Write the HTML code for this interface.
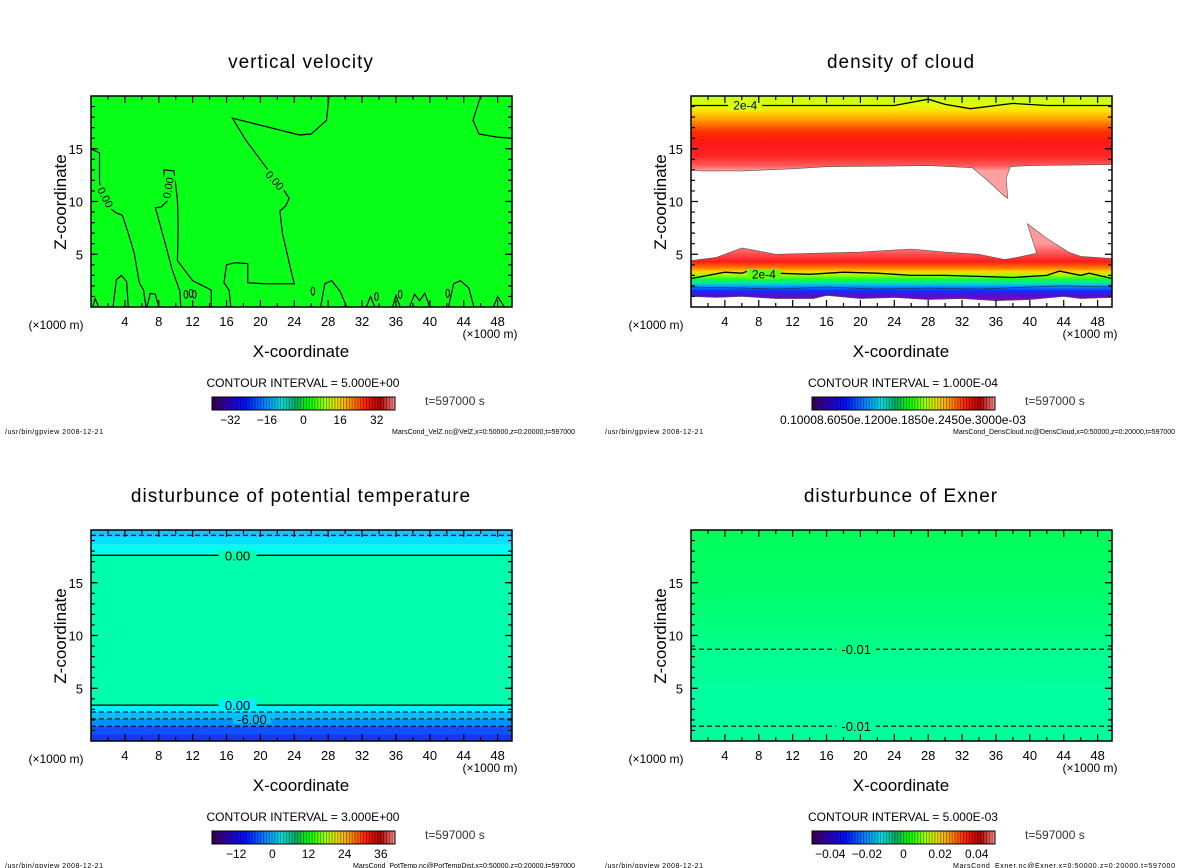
<!DOCTYPE html>
<html><head><meta charset="utf-8"><style>
html,body{margin:0;padding:0;background:#fff;}
svg{display:block;font-family:"Liberation Sans","DejaVu Sans",sans-serif;}
</style></head><body>
<svg id="fig" width="1200" height="868" viewBox="0 0 1200 868" xmlns="http://www.w3.org/2000/svg">
<defs>
<linearGradient id="cbar" x1="0" x2="1" y1="0" y2="0">
<stop offset="0" stop-color="#3a0050"/><stop offset="0.08" stop-color="#3000b0"/><stop offset="0.18" stop-color="#0010ff"/>
<stop offset="0.3" stop-color="#0090ff"/><stop offset="0.38" stop-color="#00e0e0"/><stop offset="0.46" stop-color="#00b060"/>
<stop offset="0.53" stop-color="#00ff00"/><stop offset="0.62" stop-color="#a0ff00"/><stop offset="0.68" stop-color="#e8e000"/>
<stop offset="0.76" stop-color="#ff9000"/><stop offset="0.84" stop-color="#ff2000"/><stop offset="0.92" stop-color="#b00000"/>
<stop offset="1" stop-color="#ff9090"/>
</linearGradient>
</defs>
</svg>
<script>
// ---------- data ----------
const xTicks = [4,8,12,16,20,24,28,32,36,40,44,48];
const zTicks = [5,10,15];
const titles = ["vertical velocity","density of cloud","disturbunce of potential temperature","disturbunce of Exner"];
const intervals = ["CONTOUR INTERVAL = 5.000E+00","CONTOUR INTERVAL = 1.000E-04","CONTOUR INTERVAL = 3.000E+00","CONTOUR INTERVAL = 5.000E-03"];
const footers = ["MarsCond_VelZ.nc@VelZ,x=0:50000,z=0:20000,t=597000","MarsCond_DensCloud.nc@DensCloud,x=0:50000,z=0:20000,t=597000","MarsCond_PotTemp.nc@PotTempDist,x=0:50000,z=0:20000,t=597000","MarsCond_Exner.nc@Exner,x=0:50000,z=0:20000,t=597000"];
const cbarLabels1 = [-32,-16,0,16,32];
const cbarLabels3 = [-12,0,12,24,36];
const cbarLabels4 = [-0.04,-0.02,0,0.02,0.04];
const cbarRange1 = [-40,40];
const cbarRange3 = [-20,40.7];
const cbarRange4 = [-0.05,0.05];
// vertical velocity zero contours [x km, z km]
const velA = [[0,15],[1,14.6],[1,11.8],[1.5,10.5],[2.2,9.4],[3,8.9],[3.7,8.7],[4.4,7],[5.1,5.1],[5.7,2.3],[6.2,1.6],[6.5,0]];
const velB = [[10.6,0],[10.5,1.5],[9.6,3.5],[8.9,5.6],[7.6,9.4],[8.3,9.5],[9.2,10.2],[8.7,11.8],[8.6,13],[9.8,12.9],[10.2,10.2],[10.3,7.5],[10.2,4.4],[12,2.5],[14.2,1.6],[14.2,0]];
const velC = [[28.1,20],[27.8,17.7],[26,16.4],[24.6,16.3],[16.7,17.9],[18.2,15.9],[20.9,13],[22,12],[23.4,10.3],[23,9.6],[22.3,9.1],[22.6,7],[23.6,3.5],[24,2.2],[20.6,2.2],[18.5,2.3],[18.5,4.1],[17,4.2],[16,4],[15.7,2.3],[16.3,1.6],[16.5,0]];
const velD = [[46,20],[45.1,17.7],[45.8,16.4],[47.9,16.1],[49.7,16]];
const velHumps = [[[2.6,0],[3,2.6],[3.6,3],[4.2,2.4],[4.4,0]],[[27.1,0],[27.6,2.2],[28.4,2.5],[29.4,1.5],[30.2,0]],[[42.2,0],[42.8,2.2],[43.6,2.5],[44.6,1.8],[45.2,0]],[[6.6,0],[7,1.3],[7.6,1.2],[8,0]],[[32.5,0],[33,1],[33.5,0]],[[35.6,0],[36,1.1],[36.5,0]],[[37.6,0],[38.2,1.2],[38.8,0.6],[39.4,1.3],[40,0]],[[47.5,0],[48,1],[48.8,0]],[[0.2,0],[0.5,0.8],[0.9,0]]];
const velBlobs = [[11.2,1.2],[11.8,1.3],[12.2,1.2],[33.7,1],[36.5,1.2],[42.1,1.3],[26.2,1.5]];
// cloud density boundaries
const upperTop2e4 = [[0,19.1],[10,19.1],[24,19.1],[28,19.7],[30,19.2],[33,18.8],[38,19.3],[42,19.1],[49.7,19.1]];
const upperBottom = [[0,13],[1,12.9],[6,12.9],[12,13.1],[16,13.3],[28,13.4],[33.2,13.2],[35,12],[37,10.5],[37.4,10.3],[37.2,12.2],[37.7,13.3],[40,13.4],[49.7,13.5]];
const lowerTop = [[0,4.4],[3,4.7],[6,5.6],[8,5.3],[10,5],[20,5.2],[26,5.5],[30,5.2],[34,5],[37,4.5],[38.5,4.7],[40.8,5.1],[39.7,7.9],[42,6.5],[44.6,5.2],[46,4.8],[49.7,4.6]];
const lowerBottom = [[49.7,0.9],[46,0.8],[44,1],[40,0.7],[36,0.6],[32,0.8],[28,0.7],[24,0.9],[20,0.8],[16,1.1],[14.5,0.8],[10,0.8],[6,1],[3,0.9],[0,1]];
const lower2e4 = [[0,2.7],[2,3],[4,3.3],[6,3.2],[7,3.5],[10,3.2],[14,3.1],[18,3.3],[22,3.2],[26,3],[30,3],[34,2.9],[38,2.8],[42,3],[43.5,3.4],[46,3],[47,3.2],[49.7,2.7]];
const lowerThin = [[0,1.9],[6,1.8],[10,1.7],[16,1.9],[22,1.7],[28,1.8],[34,1.7],[40,1.9],[44,2],[49.7,1.9]];
// potential temperature band levels (z) and colours
const ptBandTops = [20,19.3,18.6,17.6,3.4,2.75,2.1,1.4];
const ptBandColors = ["#18c4ff","#00e0ff","#00ffee","#00ffac","#00f0ff","#00c0ff","#0090ff","#1050ff"];
const ptSolid = [17.6,3.4];
const ptDashed = [19.5,2.75,2.1,1.4];
// Exner dashed contours
const exDashed = [8.7,1.4];

// ---------- helpers ----------
const svg = document.getElementById('fig');
const NS = 'http://www.w3.org/2000/svg';
const offs = [[0,0],[600,0],[0,434],[600,434]];
const XMAX = 49.7, ZMAX = 20, PW = 421, PH = 211;
function sx(p,v){return offs[p][0]+91+v/XMAX*PW;}
function sy(p,z){return offs[p][1]+307-z/ZMAX*PH;}
function mk(tag,attrs,parent){const e=document.createElementNS(NS,tag);for(const k in attrs)e.setAttribute(k,attrs[k]);(parent||svg).appendChild(e);return e;}
function pts(p,arr){return arr.map(a=>sx(p,a[0]).toFixed(1)+','+sy(p,a[1]).toFixed(1)).join(' ');}
function txt(x,y,s,size,anchor,parent){const t=mk('text',{x:x,y:y,'font-size':size,'text-anchor':anchor||'middle',fill:'#000'},parent);t.textContent=s;return t;}

for(let p=0;p<4;p++){
  const ox=offs[p][0], oy=offs[p][1];
  const g=mk('g',{});
  
  
  const clip=mk('clipPath',{id:'clip'+p},g);
  mk('rect',{x:ox+91,y:oy+96,width:PW,height:PH},clip);
  const plot=mk('g',{'clip-path':'url(#clip'+p+')'},g);
  
  
  window['plot'+p]=plot;
  const t=txt(ox+301,oy+68,titles[p],19,'middle',g);
  t.setAttribute('letter-spacing','1');
  
  
}

// panel 1 fill
(function(){const p=0,g=plot0;
 mk('rect',{x:sx(p,0),y:sy(p,20),width:PW,height:PH,fill:'#08ff18'},g);
 const lines=[velA,velB,velC,velD].concat(velHumps);
 lines.forEach((l,i)=>{const e=mk('polyline',{points:pts(p,l),fill:'none',stroke:'#000','stroke-width':1.2},g);
   
   });
 velBlobs.forEach(b=>{const e=mk('ellipse',{cx:sx(p,b[0]),cy:sy(p,b[1]),rx:1.8,ry:4,fill:'none',stroke:'#000','stroke-width':1},g);
   
   });
 [[1.7,10.4,62],[9.1,11.3,-80],[21.7,12,48]].forEach(l=>{
   const x=sx(p,l[0]),y=sy(p,l[1]);
   mk('rect',{x:x-6,y:y-13,width:12,height:26,fill:'#08ff18',transform:`rotate(${l[2]>0?l[2]-90:l[2]+90} ${x} ${y})`},g);
   const tt=txt(x,y+4,'0.00',11,'middle',g);tt.setAttribute('transform',`rotate(${l[2]} ${x} ${y})`);
   
   });
})();

// panel 2 fill
(function(){const p=1,g=plot1;
 const d=svg.querySelector('defs');
 const ug=mk('linearGradient',{id:'upg',gradientUnits:'userSpaceOnUse',x1:0,x2:0,y1:sy(p,20),y2:sy(p,12.9)},d);
 [[0,'#c4ff28'],[0.12,'#e0ff00'],[0.2,'#ffe000'],[0.32,'#ff9a00'],[0.48,'#ff3000'],[0.62,'#ff1818'],[0.8,'#ff2424'],[0.93,'#ff5a5a'],[1,'#ffa0a0']].forEach(s=>mk('stop',{offset:s[0],'stop-color':s[1]},ug));
 const lg=mk('linearGradient',{id:'lowg',gradientUnits:'userSpaceOnUse',x1:0,x2:0,y1:sy(p,6),y2:sy(p,0.7)},d);
 [[0,'#ff9898'],[0.2,'#ff4848'],[0.32,'#ff1a1a'],[0.42,'#ff7000'],[0.5,'#ffd000'],[0.56,'#a0ff00'],[0.64,'#10ff30'],[0.71,'#00e0c0'],[0.76,'#00a0ff'],[0.84,'#1030ff'],[0.92,'#5010d0'],[1,'#8000c0']].forEach(s=>mk('stop',{offset:s[0],'stop-color':s[1]},lg));
 const up=[[0,20],[49.7,20]].concat(upperBottom.slice().reverse());
 let e=mk('polygon',{points:pts(p,up),fill:'url(#upg)',stroke:'#555','stroke-width':0.6},g);
 
 
 e=mk('polygon',{points:pts(p,lowerTop.concat(lowerBottom)),fill:'url(#lowg)',stroke:'#555','stroke-width':0.6},g);
 
 
 [upperTop2e4,lower2e4].forEach(l=>{const c=mk('polyline',{points:pts(p,l),fill:'none',stroke:'#000','stroke-width':1.3},g);
   
   });
 mk('polyline',{points:pts(p,lowerThin),fill:'none',stroke:'#203060','stroke-width':0.8},g);
 [[6.4,19.1,'#d8ff10'],[8.6,3.1,'#60ff10']].forEach(l=>{const x=sx(p,l[0]),y=sy(p,l[1]);
   mk('rect',{x:x-17,y:y-5,width:34,height:10,fill:l[2]},g);
   const tt=txt(x,y+4,'2e-4',12,'middle',g);
   
   });
})();

// panel 3 fill
(function(){const p=2,g=plot2;
 for(let i=0;i<ptBandTops.length;i++){
   const top=ptBandTops[i], bot=i+1<ptBandTops.length?ptBandTops[i+1]:0;
   const r=mk('rect',{x:sx(p,0),y:sy(p,top),width:PW,height:sy(p,bot)-sy(p,top),fill:ptBandColors[i]},g);
   
   }
 mk('rect',{x:sx(p,0),y:sy(p,0.6),width:PW,height:sy(p,0)-sy(p,0.6),fill:'#1838f0'},g);
 ptSolid.forEach(z=>{const l=mk('line',{x1:sx(p,0),x2:sx(p,XMAX),y1:sy(p,z),y2:sy(p,z),stroke:'#000','stroke-width':1.3},g);
   
   });
 ptDashed.forEach(z=>{const l=mk('line',{x1:sx(p,0),x2:sx(p,XMAX),y1:sy(p,z),y2:sy(p,z),stroke:'#000','stroke-width':1,'stroke-dasharray':'5,3'},g);
   
   });
 [[17.3,17.6,'0.00','#00ffac'],[17.3,3.4,'0.00','#00f0ff'],[19,2.1,'-6.00','#00c0ff']].forEach(l=>{const x=sx(p,l[0]),y=sy(p,l[1]);
   mk('rect',{x:x-19,y:y-5,width:38,height:10,fill:l[3]},g);
   const tt=txt(x,y+5,l[2],13,'middle',g);
   
   });
})();

// panel 4 fill
(function(){const p=3,g=plot3;
 const d=svg.querySelector('defs');
 const eg=mk('linearGradient',{id:'exg',gradientUnits:'userSpaceOnUse',x1:0,x2:0,y1:sy(p,20),y2:sy(p,0)},d);
 [[0,'#00ff58'],[0.35,'#00ff70'],[0.6,'#00ff90'],[0.8,'#00ffa2'],[1,'#00ff98']].forEach(s=>mk('stop',{offset:s[0],'stop-color':s[1]},eg));
 mk('rect',{x:sx(p,0),y:sy(p,20),width:PW,height:PH,fill:'url(#exg)'},g);
 exDashed.forEach(z=>{const l=mk('line',{x1:sx(p,0),x2:sx(p,XMAX),y1:sy(p,z),y2:sy(p,z),stroke:'#000','stroke-width':1.1,'stroke-dasharray':'5,3'},g);
   
   
   const x=sx(p,19.5),y=sy(p,z);
   mk('rect',{x:x-20,y:y-5,width:40,height:10,fill:z>5?'#00ff80':'#00ff9c'},g);
   const tt=txt(x,y+5,'-0.01',13,'middle',g);
   
   });
})();

// axes, ticks, labels, colorbars, footers
for(let p=0;p<4;p++){
  const ox=offs[p][0], oy=offs[p][1];
  const L=sx(p,0),R=sx(p,XMAX),T=sy(p,20),B=sy(p,0);
  const ax=mk('g',{});
  
  
  mk('rect',{x:L,y:T,width:R-L,height:B-T,fill:'none',stroke:'#000','stroke-width':1.5},ax);
  let dpath='';
  for(let v=2;v<XMAX;v+=2){const x=sx(p,v),len=(v%4===0)?7:4;dpath+=`M${x} ${B}v${-len}M${x} ${T}v${len}`;}
  for(let z=1;z<ZMAX;z++){const y=sy(p,z),len=(z%5===0)?7:4;dpath+=`M${L} ${y}h${len}M${R} ${y}h${-len}`;}
  mk('path',{d:dpath,stroke:'#000','stroke-width':1.2,fill:'none'},ax);
  xTicks.forEach(v=>{const t=txt(sx(p,v),B+19,String(v),13,'middle',ax);
    
    });
  zTicks.forEach(z=>{const t=txt(L-8,sy(p,z)+5,String(z),13,'end',ax);
    
    });
  let t=txt(ox+56,oy+329,'(×1000 m)',12,'middle',ax);
  
  
  t=txt(ox+490,oy+338,'(×1000 m)',12,'middle',ax);
  
  
  t=txt(ox+301,oy+357,'X-coordinate',17,'middle',ax);
  
  
  t=txt(ox+66,oy+202,'Z-coordinate',17,'middle',ax);
  t.setAttribute('transform',`rotate(-90 ${ox+66} ${oy+202})`);
  
  
  t=txt(ox+303,oy+387,intervals[p],12,'middle',ax);
  
  
  const cb=mk('g',{},ax);
  
  
  const cx0=ox+212,cw=183,cy0=oy+397,ch=13;
  mk('rect',{x:cx0,y:cy0,width:cw,height:ch,fill:'url(#cbar)'},cb);
  let sp='';for(let i=1;i<64;i++){const x=cx0+i*cw/64;sp+=`M${x.toFixed(1)} ${cy0}v${ch}`;}
  mk('path',{d:sp,stroke:'#000','stroke-opacity':0.45,'stroke-width':0.8},cb);
  mk('rect',{x:cx0,y:cy0,width:cw,height:ch,fill:'none',stroke:'#000','stroke-width':1},cb);
  const lab=p===0?[cbarLabels1,cbarRange1]:p===2?[cbarLabels3,cbarRange3]:p===3?[cbarLabels4,cbarRange4]:null;
  if(lab){lab[0].forEach(v=>{const x=cx0+(v-lab[1][0])/(lab[1][1]-lab[1][0])*cw;
      const tt=txt(x,oy+424,String(v).replace('-','−'),12,'middle',cb);
      
      });}
  else{const tt=txt(ox+180,oy+424,'0.10008.6050e.1200e.1850e.2450e.3000e-03',12,'start',cb);
      tt.setAttribute('textLength','246');tt.setAttribute('lengthAdjust','spacingAndGlyphs');
      
      }
  t=txt(ox+425,oy+405,'t=597000 s',12,'start',ax);
  t.setAttribute('fill','#333');
  
  
  t=txt(ox+5,oy+434,'/usr/bin/gpview  2008-12-21',7,'start',ax);
  t.setAttribute('textLength','98');
  
  
  t=txt(ox+575,oy+434,footers[p],7,'end',ax);
  t.setAttribute('textLength',p===0?'183':'222');
  
  
}
</script>
</body></html>
